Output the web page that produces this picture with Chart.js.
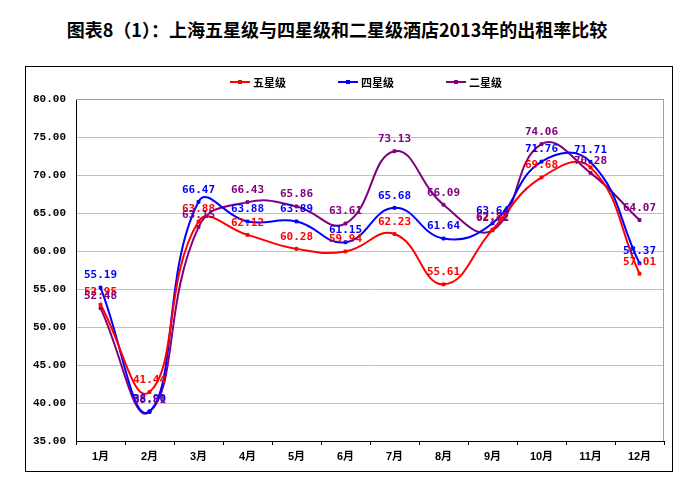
<!DOCTYPE html>
<html>
<head>
<meta charset="utf-8">
<script src="https://cdn.jsdelivr.net/npm/chart.js@4"></script>
<style>
    body { margin: 0; background: #fff; width: 686px; height: 490px; position: relative; overflow: hidden; }
    #title { position: absolute; left: 0; top: 16px; width: 674px; text-align: center;
             font: bold 18px "Noto Sans CJK SC", sans-serif; color: #000; }
    #box { position: absolute; left: 25px; top: 66px; width: 646px; height: 404px; border: 1px solid #000; }
    #chart { position: absolute; left: 0; top: 0; }
    #legend { position: absolute; left: 204px; top: 7px; display: flex; gap: 52px;
              font: bold 11px "Noto Sans CJK SC", sans-serif; }
    .item { display: flex; align-items: center; }
    .swatch { position: relative; width: 20px; height: 2px; margin-right: 3px; }
    .swatch i { position: absolute; left: 8px; top: -1px; width: 4px; height: 4px; }
</style>
</head>
<body>
<div id="title">图表8（1）：上海五星级与四星级和二星级酒店2013年的出租率比较</div>
<div id="box">
    <canvas id="chart" width="646" height="404"></canvas>
    <div id="legend"></div>
</div>
<script>
const months = ['1月', '2月', '3月', '4月', '5月', '6月', '7月', '8月', '9月', '10月', '11月', '12月'];
const fiveStar = [52.95, 41.44, 63.88, 62.12, 60.28, 59.94, 62.23, 55.61, 62.82, 69.68, 71.00, 57.01];
const fourStar = [55.19, 38.90, 66.47, 63.88, 63.89, 61.15, 65.68, 61.64, 63.64, 71.76, 71.71, 58.37];
const twoStar = [52.48, 38.81, 63.15, 66.43, 65.86, 63.61, 73.13, 66.09, 62.72, 74.06, 70.28, 64.07];

// labels drawn above each point
const valueLabels = {
    id: 'valueLabels',
    afterDatasetsDraw(chart) {
        const ctx = chart.ctx;
        ctx.save();
        ctx.font = 'bold 11px "DejaVu Sans Mono", monospace';
        ctx.textAlign = 'center';
        ctx.textBaseline = 'middle';
        chart.data.datasets.forEach((ds, i) => {
            chart.getDatasetMeta(i).data.forEach((pt, j) => {
                if (ds.hideLabels && ds.hideLabels.includes(j)) return;
                ctx.fillStyle = ds.borderColor;
                ctx.fillText(ds.data[j].toFixed(2), pt.x, pt.y - 12);
            });
        });
        ctx.restore();
    }
};

// grey frame round the plot area
const plotFrame = {
    id: 'plotFrame',
    beforeDatasetsDraw(chart) {
        const a = chart.chartArea;
        const ctx = chart.ctx;
        ctx.save();
        ctx.strokeStyle = '#a0a0a0';
        ctx.lineWidth = 1;
        ctx.beginPath();
        ctx.moveTo(a.left, a.top + 0.5);
        ctx.lineTo(a.right - 0.5, a.top + 0.5);
        ctx.lineTo(a.right - 0.5, a.bottom);
        ctx.stroke();
        ctx.restore();
    }
};

function series(label, data, color) {
    return {
        label: label,
        data: data,
        borderColor: color,
        backgroundColor: color,
        borderWidth: 2,
        tension: 0.45,
        pointStyle: 'rect',
        pointRadius: 2,
        pointBorderWidth: 1
    };
}

const five = series('五星级', fiveStar, '#ff0000');
five.hideLabels = [10];

const ctx = document.getElementById('chart').getContext('2d');
const chart = new Chart(ctx, {
    type: 'line',
    data: {
        labels: months,
        datasets: [
            five,
            series('四星级', fourStar, '#0000ff'),
            series('二星级', twoStar, '#800080')
        ]
    },
    options: {
        responsive: false,
        animation: false,
        layout: { padding: { top: 32, right: 8, left: 0, bottom: 0 } },
        plugins: {
            legend: { display: false },
            tooltip: { enabled: false }
        },
        scales: {
            x: {
                offset: true,
                afterFit: (scale) => { scale.height = 30; },
                grid: { offset: true, drawOnChartArea: false, drawTicks: true, tickLength: 4, color: '#000' },
                border: { color: '#000', width: 1 },
                ticks: { color: '#000', padding: 5, font: { family: '"Liberation Sans", "Noto Sans CJK SC"', size: 11, weight: 'bold' } }
            },
            y: {
                min: 35,
                max: 80,
                afterFit: (scale) => { scale.width = 50; },
                grid: { color: '#c0c0c0', drawTicks: false },
                border: { color: '#000', width: 1 },
                ticks: {
                    stepSize: 5,
                    padding: 10,
                    color: '#000',
                    font: { family: '"Liberation Mono", monospace', size: 11, weight: 'bold' },
                    callback: (v) => v.toFixed(2)
                }
            }
        }
    },
    plugins: [plotFrame, valueLabels]
});

// legend
const legend = document.getElementById('legend');
chart.data.datasets.forEach(ds => {
    const item = document.createElement('div');
    item.className = 'item';
    item.innerHTML = `<span class="swatch" style="background:${ds.borderColor}"><i style="background:${ds.borderColor}"></i></span><span>${ds.label}</span>`;
    legend.appendChild(item);
});
</script>
</body>
</html>
